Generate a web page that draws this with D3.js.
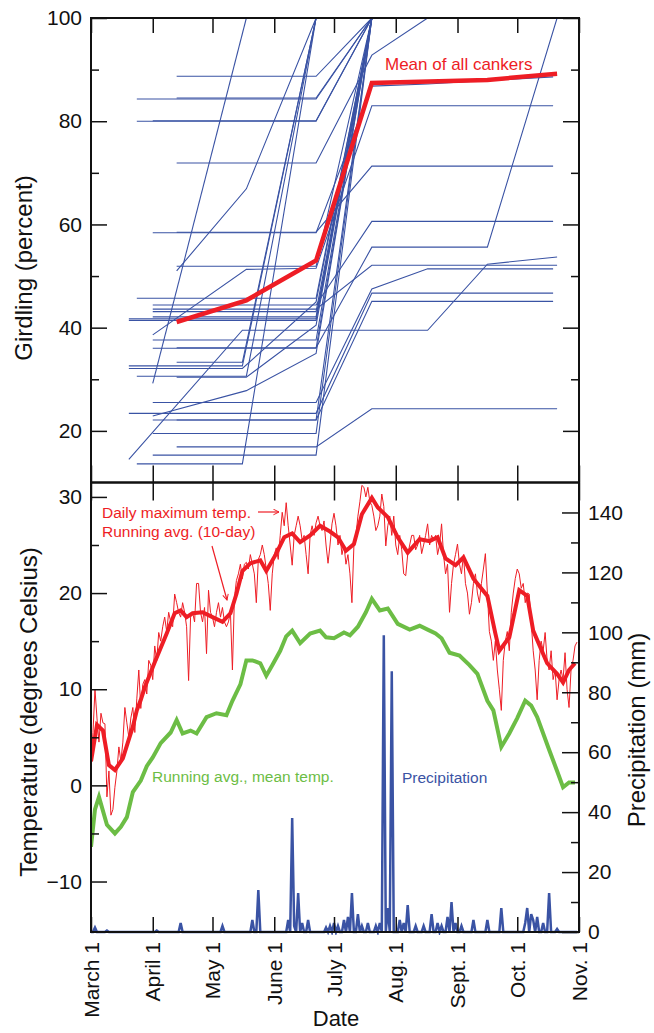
<!DOCTYPE html>
<html>
<head>
<meta charset="utf-8">
<script src="https://cdn.jsdelivr.net/npm/d3@7"></script>
<style>
  body { margin: 0; background: #fff; }
  svg text { font-family: "Liberation Sans", Arial, Helvetica, sans-serif; fill: #111; }
</style>
</head>
<body>
<div id="chart"></div>
<script>
// ---------- data ----------
var monthLabels = ['March 1', 'April 1', 'May 1', 'June 1', 'July 1', 'Aug. 1', 'Sept. 1', 'Oct. 1', 'Nov. 1'];
var monthStarts = ['2001-03-01', '2001-04-01', '2001-05-01', '2001-06-01', '2001-07-01',
                   '2001-08-01', '2001-09-01', '2001-10-01', '2001-11-01'];

// canker visits (columns of the canker rows below)
var visitDates = ['2001-03-20', '2001-03-24', '2001-04-01', '2001-04-13', '2001-05-16', '2001-05-18',
                  '2001-06-22', '2001-07-20', '2001-08-17', '2001-09-16', '2001-10-19', '2001-10-21'];
var n = null;
var cankers = [
  [n, n, n, 88.7, n, n, 88.7, 100, n, n, n, n],
  [n, 84.3, n, n, n, n, 84.3, 100, n, n, n, n],
  [n, n, n, 84.5, n, n, 84.5, 100, n, n, n, n],
  [n, 80, n, n, n, n, 80, 100, n, n, n, n],
  [n, n, 80.1, n, n, n, 80.1, 100, n, n, n, n],
  [n, n, n, 71.9, n, n, 71.9, 92.8, 100, n, n, n],
  [n, n, 58.4, n, n, n, 58.4, 86.8, 87.2, n, 88.6, n],
  [n, n, n, 58.5, n, n, 58.5, 71.3, n, n, 71.3, n],
  [n, n, n, 51.9, n, n, 51.9, 100, n, n, n, n],
  [n, n, 38.6, n, n, 51.3, 51.5, 83.0, n, n, 83.0, n],
  [n, n, 29.2, n, n, 100, n, n, n, n, n, n],
  [n, n, n, 51.0, n, 66.9, 100, n, n, n, n, n],
  [14.5, n, n, n, 39.5, n, n, n, 39.5, 52.3, n, 53.7],
  [n, 45.7, n, n, n, n, 45.7, 100, n, n, n, n],
  [n, n, 44.4, n, n, n, 44.4, 60.6, n, n, 60.6, n],
  [n, n, 43.6, n, n, n, 43.6, 52.1, n, n, n, 52.1],
  [n, n, 43.1, n, n, n, 43.1, 100, n, n, n, n],
  [n, n, 42.1, n, n, n, 42.1, 100, n, n, n, n],
  [41.7, n, n, n, n, n, 41.7, 100, n, n, n, n],
  [41.4, n, n, n, n, n, 41.4, 100, n, n, n, n],
  [n, n, 37.6, n, n, n, 37.6, 100, n, n, n, n],
  [n, n, 36.0, n, n, n, 36.0, 100, n, n, n, n],
  [n, n, n, 36.1, n, n, 36.1, 55.6, n, 55.6, n, 100],
  [n, n, n, 33.3, 33.3, n, 100, n, n, n, n, n],
  [32.6, n, n, n, 32.6, n, 100, n, n, n, n, n],
  [32.1, n, n, n, 32.1, n, 45.0, 100, n, n, n, n],
  [n, 30.6, n, n, n, 30.6, 100, n, n, n, n, n],
  [n, n, n, 30.4, n, 30.4, 40.5, 100, n, n, n, n],
  [n, n, 25.5, n, n, n, 25.5, 47.5, 51.4, n, 51.4, n],
  [23.4, n, n, n, n, n, 23.4, 46.7, n, n, 46.7, n],
  [n, n, 22.9, n, n, 27.8, 35.0, 100, n, n, n, n],
  [n, n, 22.1, n, n, n, 22.1, 45.1, n, n, 45.1, n],
  [n, n, n, 22.1, n, n, 22.1, 100, n, n, n, n],
  [n, n, 19.5, n, n, n, 19.5, 100, n, n, n, n],
  [n, n, n, 16.9, n, n, 16.9, 24.3, n, n, n, 24.3],
  [n, n, 15.3, n, n, n, 15.3, 100, n, n, n, n],
  [n, 13.6, n, n, 13.6, n, 100, n, n, n, n, n]
];

var meanDates = ['2001-04-13', '2001-05-18', '2001-06-22', '2001-07-20', '2001-09-16', '2001-10-21'];
var meanGirdling = [41.1, 45.3, 53.0, 87.4, 88.0, 89.2];

// daily maximum temperature (deg C), one value per day from March 1
var maxTemp = [
  2.5, 5.5, 10, 7, 4.5, 7.5, 6.5, 6.4, -1.2, 1.5,
  -3.1, -2.5, -0.2, 1.5, 4, 2.5, 4.5, 8.1, 6.5, 5,
  7, 8.1, 5.5, 9, 12, 8, 10.5, 11, 9.5, 13,
  12.5, 11, 14.5, 13, 15.9, 15, 16.5, 17.5, 16, 18,
  17, 16.5, 19.9, 19, 18, 17.5, 19, 18, 16.5, 10.9,
  17.5, 18, 17, 21, 21, 18, 17, 18.5, 13.7, 20.3,
  18, 17.5, 16.5, 18, 19, 17.5, 18.5, 17, 16.5, 17,
  18, 12, 19.5, 21.3, 22, 23, 21.5, 23, 23.2, 22.5,
  24, 23, 22, 19, 23.5, 24, 25, 24, 22.5, 21,
  18.2, 22, 24, 24.7, 23.5, 26, 28.4, 27, 29.4, 27,
  25, 22.9, 26, 27, 28, 27, 25.5, 26, 24, 22,
  26, 27, 26, 27.3, 28, 27, 26.5, 27.5, 25, 23.1,
  25, 27.2, 28.3, 27, 25, 26, 24, 25, 23, 24,
  22, 19, 25, 26, 28, 29.5, 31.2, 31, 30, 31,
  29.5, 29.1, 28, 26.5, 27, 28, 30.3, 29, 24.9, 27,
  28, 26, 28, 25, 24, 26, 24.5, 22, 21.8, 24,
  25, 26, 26, 24.5, 25, 26, 24.1, 25, 26, 27.2,
  25, 26, 25.5, 26, 24, 25, 27.2, 24, 22, 23,
  18, 21, 23, 24, 25.1, 23, 22, 24, 21, 20,
  17.8, 19, 21, 22, 20, 19, 21, 22.5, 24.1, 20,
  16, 15, 13, 15, 12, 10, 7.8, 13, 15, 16,
  14, 18, 20, 21.5, 22.5, 22, 20.5, 21, 19, 20,
  19.9, 17, 14, 12, 8.9, 13, 15, 14, 15.9, 13,
  12, 14, 11, 12, 8.9, 11, 12, 11, 13.8, 10,
  8.1, 12, 13, 14.5, 14.9
];

// running averages: day from March 1, value
var avgMaxDays = [0, 2, 3, 6, 9, 12, 16, 21, 23, 25, 27, 32, 38, 42, 45, 48, 51, 56, 61, 66, 70, 73, 76, 80,
                  85, 88, 93, 97, 101, 105, 110, 115, 120, 124, 128, 132, 136, 141, 144, 149, 154, 159,
                  165, 170, 174, 178, 183, 187, 192, 199, 203, 205, 210, 215, 219, 222, 229, 234, 237,
                  240, 243];
var avgMax = [2.5, 5, 6.3, 5.7, 2.1, 1.6, 2.8, 6.1, 7.8, 8.9, 10.2, 12.8, 15.8, 17.9, 18.2, 17.5, 17.9, 18,
              17.5, 17, 17.9, 19.9, 22.3, 23.1, 23.4, 22.3, 24.1, 25.8, 26.2, 25.3, 26, 27, 26.4, 25.8,
              24.4, 25.1, 28.2, 29.9, 28.9, 27.9, 25.8, 24.2, 25.6, 25.4, 25.8, 23.6, 22.9, 23.7, 21.5,
              19.7, 15.8, 14, 15.4, 20.3, 19.7, 16.1, 12.7, 11.6, 10.7, 12, 12.7];

var avgMeanDays = [0, 2, 4, 8, 12, 15, 18, 21, 25, 28, 31, 35, 40, 43, 46, 50, 53, 58, 63, 68, 71, 75, 78,
                   81, 85, 88, 91, 95, 98, 101, 105, 110, 115, 118, 122, 127, 130, 134, 138, 141, 145, 149,
                   154, 160, 165, 169, 173, 176, 180, 185, 190, 194, 199, 202, 206, 210, 214, 218, 221,
                   224, 230, 234, 237, 240, 243];
var avgMean = [-6.4, -2.5, -1.2, -4.1, -5, -4.3, -3.3, -0.7, 0.5, 2, 2.9, 4.4, 5.5, 6.8, 5.4, 5.7, 5.4, 7.1,
               7.5, 7.3, 8.8, 10.5, 13, 13, 12.7, 11.4, 12.5, 14, 15.5, 16.1, 14.8, 15.8, 16.1, 15.4, 15.3,
               15.9, 15.6, 16.5, 18, 19.4, 18.2, 18.4, 16.8, 16.2, 16.6, 16.2, 15.8, 15.3, 13.8, 13.5, 12.5,
               11.6, 8.8, 7.8, 4.0, 5.4, 7, 8.8, 8.3, 7.1, 3.7, 1.5, -0.2, 0.3, 0.3];

// daily precipitation (mm) from March 1
var precip = [
  0, 0, 1.5, 0, 0, 0, 0, 0, 0.5, 0,
  0, 0, 0, 0, 0, 0, 0, 0, 0, 0,
  0, 0, 0, 0, 0, 0, 0, 0, 0, 0,
  0, 0, 0, 0.5, 0, 0, 0, 0, 0, 0,
  0, 0, 0, 0, 0, 3, 0, 0, 0, 0,
  0, 0, 0, 0, 0, 0, 0, 0, 0, 0,
  0, 0, 0, 0, 0, 0, 2, 0, 0, 0,
  0, 0, 0, 0, 0, 0, 0, 0, 0, 0,
  0, 4, 0, 0, 14, 0, 0, 0, 0, 0,
  0, 0, 0, 0, 0, 0, 0, 0, 0, 4,
  0, 38, 2, 0, 13, 0, 3, 0, 0, 4,
  0, 0, 0, 0, 0, 0, 0, 0, 1.5, 0,
  2, 0, 3, 0, 2, 0, 0, 4, 0, 5,
  0, 13, 0, 0, 6, 0, 2, 0, 0, 3,
  0, 0, 0, 2, 0, 3, 0, 99, 0, 8,
  0, 87, 0, 0, 0, 4, 0, 3, 0, 9,
  0, 0, 0, 2, 0, 0, 0, 2, 0, 0,
  0, 6, 0, 0, 3, 0, 2, 0, 0, 5,
  0, 10, 0, 3, 0, 0, 2, 0, 0, 0,
  0, 0, 4, 0, 0, 0, 0, 0, 0, 4,
  0, 0, 0, 0, 0, 0, 8, 0, 0, 0,
  0, 0, 0, 0, 0, 0, 0, 0, 3, 8,
  0, 6, 4, 0, 5, 0, 0, 3, 0, 0,
  13, 0, 0, 0, 1, 0, 0, 0, 0, 0,
  0, 0, 0, 0, 0
];

var girdTicks = [20, 40, 60, 80, 100];
var tempTicks = [-10, 0, 10, 20, 30];
var precipTicks = [0, 20, 40, 60, 80, 100, 120, 140];

// ---------- setup ----------
var BLUE = '#3a53a4', RED = '#ee1d25', GREEN = '#6cbd45';

var parse = d3.timeParse('%Y-%m-%d');
var start = parse('2001-03-01');
function dayDate(d) { return d3.timeDay.offset(start, d); }

var svg = d3.select('#chart')
            .append('svg')
            .attr('width', 654)
            .attr('height', 1033);

var left = 91, right = 579, top1 = 18, mid = 482.5, bottom = 932;

var x = d3.scaleTime()
          .domain([start, parse('2001-11-01')])
          .range([left, right]);
var yG = d3.scaleLinear().domain([10, 100]).range([mid, top1]);
var yT = d3.scaleLinear().domain([-15.25, 31.5]).range([bottom, mid]);
var yP = d3.scaleLinear().domain([0, 150]).range([bottom, mid]);

var months = monthStarts.map(parse);

svg.append('clipPath').attr('id', 'clip-top')
   .append('rect').attr('x', left).attr('y', top1).attr('width', right - left).attr('height', mid - top1);
svg.append('clipPath').attr('id', 'clip-bot')
   .append('rect').attr('x', left).attr('y', mid).attr('width', right - left).attr('height', bottom - mid + 3);

// ---------- top panel: girdling ----------
var gTop = svg.append('g').attr('clip-path', 'url(#clip-top)');
var visits = visitDates.map(parse);

var girdLine = d3.line()
                 .x(function(d) { return x(d.date); })
                 .y(function(d) { return yG(d.value); });

var cankerPts = cankers.map(function(row) {
  return row.map(function(v, i) { return { date: visits[i], value: v }; })
            .filter(function(d) { return d.value !== null; });
});

gTop.selectAll('.canker')
    .data(cankerPts)
    .enter()
    .append('path')
    .attr('class', 'canker')
    .attr('d', girdLine)
    .attr('fill', 'none')
    .attr('stroke', BLUE)
    .attr('stroke-width', 1.1);

var meanPts = meanDates.map(function(d, i) { return { date: parse(d), value: meanGirdling[i] }; });
gTop.append('path')
    .datum(meanPts)
    .attr('d', girdLine)
    .attr('fill', 'none')
    .attr('stroke', RED)
    .attr('stroke-width', 4.5)
    .attr('stroke-linejoin', 'miter');

svg.append('text')
   .attr('x', 385).attr('y', 70)
   .style('font-size', '17px')
   .style('fill', RED)
   .text('Mean of all cankers');

// ---------- bottom panel: weather ----------
var gBot = svg.append('g').attr('clip-path', 'url(#clip-bot)');

var dailyLine = function(scale) {
  return d3.line()
           .x(function(d, i) { return x(dayDate(i)); })
           .y(function(d) { return scale(d); });
};

gBot.append('path')
    .datum(precip)
    .attr('d', dailyLine(yP))
    .attr('fill', 'none')
    .attr('stroke', BLUE)
    .attr('stroke-width', 2.5)
    .attr('stroke-linejoin', 'miter');

var tempLine = d3.line()
                 .x(function(d) { return x(dayDate(d[0])); })
                 .y(function(d) { return yT(d[1]); });

gBot.append('path')
    .datum(d3.zip(avgMeanDays, avgMean))
    .attr('d', tempLine)
    .attr('fill', 'none')
    .attr('stroke', GREEN)
    .attr('stroke-width', 4);

gBot.append('path')
    .datum(maxTemp)
    .attr('d', dailyLine(yT))
    .attr('fill', 'none')
    .attr('stroke', RED)
    .attr('stroke-width', 1);

gBot.append('path')
    .datum(d3.zip(avgMaxDays, avgMax))
    .attr('d', tempLine)
    .attr('fill', 'none')
    .attr('stroke', RED)
    .attr('stroke-width', 4);

// annotations
svg.append('defs').append('marker')
   .attr('id', 'arrow')
   .attr('viewBox', '0 0 10 10')
   .attr('refX', 9).attr('refY', 5)
   .attr('markerWidth', 7).attr('markerHeight', 7)
   .attr('markerUnits', 'userSpaceOnUse')
   .attr('orient', 'auto')
   .append('path')
   .attr('d', 'M1,1 L9,5 L1,9')
   .attr('fill', 'none')
   .attr('stroke', RED)
   .attr('stroke-width', 1.4);

svg.append('text').attr('x', 102).attr('y', 518)
   .style('font-size', '15.5px').style('fill', RED)
   .text('Daily maximum temp.');
svg.append('text').attr('x', 102).attr('y', 537)
   .style('font-size', '15.5px').style('fill', RED)
   .text('Running avg. (10-day)');
svg.append('line')
   .attr('x1', 258).attr('y1', 512).attr('x2', 279).attr('y2', 512)
   .attr('stroke', RED).attr('stroke-width', 1.2)
   .attr('marker-end', 'url(#arrow)');
svg.append('line')
   .attr('x1', 212).attr('y1', 546).attr('x2', 227).attr('y2', 600)
   .attr('stroke', RED).attr('stroke-width', 1.2)
   .attr('marker-end', 'url(#arrow)');

svg.append('text').attr('x', 152).attr('y', 782)
   .style('font-size', '15.5px').style('fill', GREEN)
   .text('Running avg., mean temp.');
svg.append('text').attr('x', 402).attr('y', 783)
   .style('font-size', '15.5px').style('fill', BLUE)
   .text('Precipitation');

// ---------- axes ----------
function noLabels(axis) { return axis.tickFormat(''); }
function styleAxis(g) {
  g.select('.domain').remove();
  g.selectAll('line').attr('stroke', '#111').attr('stroke-width', 1.5);
  g.selectAll('text').style('font-size', '21px').attr('fill', '#111');
}

// month ticks on every horizontal edge
svg.append('g').attr('transform', 'translate(0,' + top1 + ')')
   .call(noLabels(d3.axisTop(x).tickValues(months).tickSize(-15))).call(styleAxis);
svg.append('g').attr('transform', 'translate(0,' + mid + ')')
   .call(noLabels(d3.axisBottom(x).tickValues(months).tickSize(-17))).call(styleAxis);
svg.append('g').attr('transform', 'translate(0,' + mid + ')')
   .call(noLabels(d3.axisTop(x).tickValues(months).tickSize(-18))).call(styleAxis);
svg.append('g').attr('transform', 'translate(0,' + bottom + ')')
   .call(noLabels(d3.axisBottom(x).tickValues(months).tickSize(-15))).call(styleAxis);

// girdling axis
svg.append('g').attr('transform', 'translate(' + left + ',0)')
   .call(d3.axisLeft(yG).tickValues(girdTicks).tickSize(-16).tickPadding(9)).call(styleAxis);
svg.append('g').attr('transform', 'translate(' + left + ',0)')
   .call(noLabels(d3.axisLeft(yG).tickValues([30, 50, 70, 90]).tickSize(-8))).call(styleAxis);
svg.append('g').attr('transform', 'translate(' + right + ',0)')
   .call(noLabels(d3.axisRight(yG).tickValues(girdTicks).tickSize(-16))).call(styleAxis);
svg.append('g').attr('transform', 'translate(' + right + ',0)')
   .call(noLabels(d3.axisRight(yG).tickValues([30, 50, 70, 90]).tickSize(-8))).call(styleAxis);

// temperature axis
svg.append('g').attr('transform', 'translate(' + left + ',0)')
   .call(d3.axisLeft(yT).tickValues(tempTicks).tickSize(-16).tickPadding(9)).call(styleAxis);
svg.append('g').attr('transform', 'translate(' + left + ',0)')
   .call(noLabels(d3.axisLeft(yT).tickValues([-5, 5, 15, 25]).tickSize(-8))).call(styleAxis);

// precipitation axis
svg.append('g').attr('transform', 'translate(' + right + ',0)')
   .call(d3.axisRight(yP).tickValues(precipTicks).tickSize(-17).tickPadding(9)).call(styleAxis);
svg.append('g').attr('transform', 'translate(' + right + ',0)')
   .call(noLabels(d3.axisRight(yP).tickValues([10, 30, 50, 70, 90, 110, 130]).tickSize(-8))).call(styleAxis);

// frames
svg.append('rect')
   .attr('x', left).attr('y', top1).attr('width', right - left).attr('height', mid - top1)
   .attr('fill', 'none').attr('stroke', '#111').attr('stroke-width', 2);
svg.append('rect')
   .attr('x', left).attr('y', mid).attr('width', right - left).attr('height', bottom - mid)
   .attr('fill', 'none').attr('stroke', '#111').attr('stroke-width', 2);

// date labels
svg.selectAll('.month-label')
   .data(months)
   .enter()
   .append('text')
   .attr('class', 'month-label')
   .attr('transform', function(d) { return 'translate(' + x(d) + ',942) rotate(-90)'; })
   .attr('dy', '0.36em')
   .attr('text-anchor', 'end')
   .style('font-size', '21px')
   .text(function(d, i) { return monthLabels[i]; });

// axis titles
svg.append('text')
   .attr('transform', 'translate(32,268) rotate(-90)')
   .attr('text-anchor', 'middle')
   .style('font-size', '24px')
   .text('Girdling (percent)');
svg.append('text')
   .attr('transform', 'translate(37,712) rotate(-90)')
   .attr('text-anchor', 'middle')
   .style('font-size', '24px')
   .text('Temperature (degrees Celsius)');
svg.append('text')
   .attr('transform', 'translate(645,730) rotate(-90)')
   .attr('text-anchor', 'middle')
   .style('font-size', '24px')
   .text('Precipitation (mm)');
svg.append('text')
   .attr('x', 336).attr('y', 1026)
   .attr('text-anchor', 'middle')
   .style('font-size', '22px')
   .text('Date');
</script>
</body>
</html>
